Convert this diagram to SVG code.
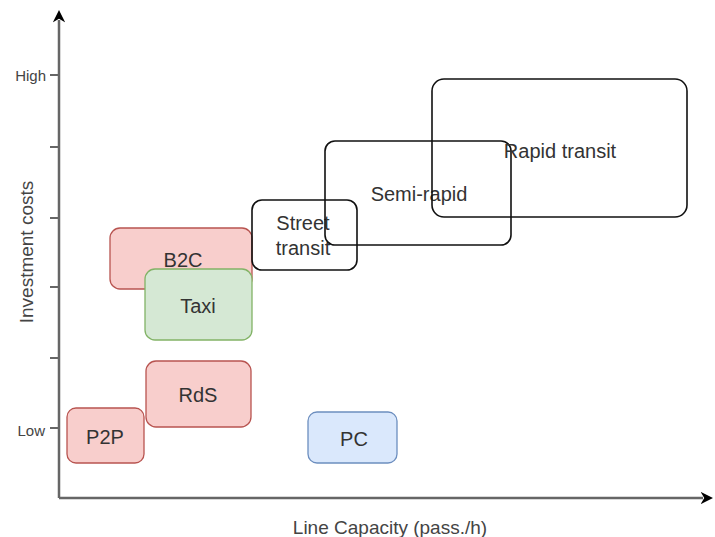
<svg xmlns="http://www.w3.org/2000/svg" width="715" height="537" viewBox="0 0 715 537">
<style>
text{font-family:"Liberation Sans",Arial,sans-serif;fill:#333;}
.lbl{font-size:20px;text-anchor:middle;dominant-baseline:central;}
.ax{font-size:19px;fill:#444;}
.tk{font-size:15px;fill:#444;text-anchor:end;dominant-baseline:central;}
.red{fill:#f8cecc;stroke:#b85450;stroke-width:1.3;}
.grn{fill:#d5e8d4;stroke:#82b366;stroke-width:1.3;}
.blu{fill:#dae8fc;stroke:#6c8ebf;stroke-width:1.3;}
.tr{fill:none;stroke:#111;stroke-width:1.6;}
.axis{stroke:#666;stroke-width:2.5;fill:none;}
.tick{stroke:#666;stroke-width:2;}
</style>
<defs>
<marker id="arr" viewBox="0 0 10 10" refX="2" refY="5" markerWidth="5" markerHeight="5" orient="auto" markerUnits="strokeWidth">
<path d="M0,0 L10,5 L0,10 L3,5 Z" fill="#000"/>
</marker>
</defs>
<g id="axes">
<line class="axis" x1="59" y1="498" x2="59" y2="20" marker-end="url(#arr)"/>
<line class="axis" x1="59" y1="498" x2="703" y2="498" marker-end="url(#arr)"/>
<line class="tick" x1="50" y1="75" x2="59" y2="75"/>
<line class="tick" x1="50" y1="147" x2="59" y2="147"/>
<line class="tick" x1="50" y1="218" x2="59" y2="218"/>
<line class="tick" x1="50" y1="287" x2="59" y2="287"/>
<line class="tick" x1="50" y1="358" x2="59" y2="358"/>
<line class="tick" x1="50" y1="428" x2="59" y2="428"/>
<text class="tk" x="46" y="75">High</text>
<text class="tk" x="45" y="430">Low</text>
<text class="ax" x="390" y="534" text-anchor="middle">Line Capacity (pass./h)</text>
<text class="ax" transform="translate(33,252) rotate(-90)" text-anchor="middle">Investment costs</text>
</g>
<g id="b2c"><rect class="red" x="110" y="228" width="142" height="61" rx="10"/><text class="lbl" x="183" y="260">B2C</text></g>
<g id="taxi"><rect class="grn" x="145" y="269" width="107" height="71" rx="10"/><text class="lbl" x="198" y="306">Taxi</text></g>
<g id="rds"><rect class="red" x="146" y="361" width="105" height="66" rx="10"/><text class="lbl" x="198" y="395">RdS</text></g>
<g id="p2p"><rect class="red" x="67" y="408" width="77" height="55" rx="9"/><text class="lbl" x="105" y="437">P2P</text></g>
<g id="pc"><rect class="blu" x="308" y="412" width="89" height="51" rx="9"/><text class="lbl" x="354" y="439">PC</text></g>
<g id="street"><rect class="tr" x="252" y="200" width="105" height="70" rx="10"/><text class="lbl" x="303" y="223">Street</text><text class="lbl" x="303" y="248">transit</text></g>
<g id="semi"><rect class="tr" x="325" y="141" width="186" height="104" rx="10"/><text class="lbl" x="419" y="194">Semi-rapid</text></g>
<g id="rapid"><rect class="tr" x="432" y="79" width="255" height="138" rx="12"/><text class="lbl" x="560" y="151">Rapid transit</text></g>
<g id="connectors"></g>
</svg>
